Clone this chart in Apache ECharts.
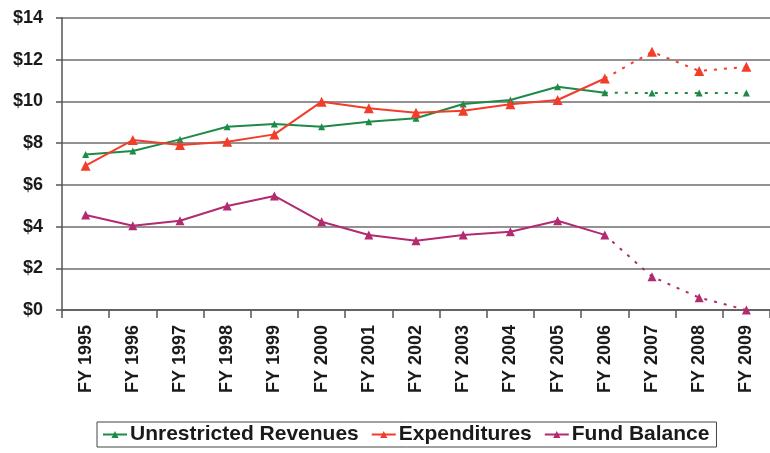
<!DOCTYPE html>
<html>
<head>
<meta charset="utf-8">
<script src="https://cdn.jsdelivr.net/npm/echarts@6/dist/echarts.min.js"></script>
<style>
  html, body { margin: 0; padding: 0; background: #fff; }
  #chart { width: 770px; height: 453px; }
</style>
</head>
<body>
<div id="chart"></div>
<script>
// fiscal years on the x axis
const years = ['FY 1995', 'FY 1996', 'FY 1997', 'FY 1998', 'FY 1999', 'FY 2000', 'FY 2001',
  'FY 2002', 'FY 2003', 'FY 2004', 'FY 2005', 'FY 2006', 'FY 2007', 'FY 2008', 'FY 2009']

// values in millions of dollars
const revenues = [7.45, 7.62, 8.18, 8.79, 8.92, 8.79, 9.03, 9.19, 9.88, 10.07, 10.7, 10.42, 10.4, 10.4, 10.4]
const expenditures = [6.92, 8.15, 7.91, 8.07, 8.42, 9.99, 9.67, 9.46, 9.55, 9.86, 10.07, 11.1, 12.38, 11.46, 11.66]
const fundBalance = [4.55, 4.04, 4.28, 4.99, 5.47, 4.23, 3.6, 3.32, 3.6, 3.75, 4.28, 3.6, 1.6, 0.59, 0.0]

// last actual year index; after it values are projections (dotted)
const lastActual = 11

const yTicks = [0, 2, 4, 6, 8, 10, 12, 14]

const chart = echarts.init(document.getElementById('chart'))

function actual(arr) {
  return arr.map((v, i) => (i <= lastActual ? v : null))
}
function projected(arr) {
  return arr.map((v, i) => (i >= lastActual ? v : null))
}

function makeSeries(name, data, color, size) {
  return [
    {
      name: name,
      type: 'line',
      data: actual(data),
      color: color,
      symbol: 'triangle',
      symbolSize: size,
      lineStyle: { color: color, width: 2 },
      itemStyle: { color: color },
      animation: false
    },
    {
      name: name,
      type: 'line',
      data: projected(data),
      color: color,
      symbol: 'triangle',
      symbolSize: (v, p) => (p.dataIndex === lastActual ? 0 : size),
      lineStyle: { color: color, width: 2, type: [3, 7] },
      itemStyle: { color: color },
      animation: false
    }
  ]
}

const labelFont = { fontFamily: 'Liberation Sans, Arial, sans-serif', fontWeight: 'bold', color: '#1a1a1a' }

chart.setOption({
  grid: {
    left: 62,
    top: 18,
    width: 712,
    height: 292
  },
  xAxis: {
    type: 'category',
    data: years,
    boundaryGap: true,
    axisLine: { lineStyle: { color: '#555', width: 1.5 } },
    axisTick: { show: true, length: 8, lineStyle: { color: '#555', width: 1.5 } },
    axisLabel: Object.assign({ rotate: 90, fontSize: 18, margin: 15, interval: 0 }, labelFont)
  },
  yAxis: {
    type: 'value',
    min: yTicks[0],
    max: yTicks[yTicks.length - 1],
    interval: 2,
    axisLine: { show: true, lineStyle: { color: '#555', width: 1.5 } },
    axisTick: { show: true, length: 6, lineStyle: { color: '#555', width: 1.5 } },
    splitLine: { lineStyle: { color: '#6e6e6e', width: 1.5 } },
    axisLabel: Object.assign({ fontSize: 18, margin: 19, formatter: v => '$' + v }, labelFont)
  },
  legend: {
    data: ['Unrestricted Revenues', 'Expenditures', 'Fund Balance'],
    left: 97,
    top: 422,
    orient: 'horizontal',
    borderColor: '#444',
    borderWidth: 1,
    padding: [2, 7, 2, 5],
    itemWidth: 24,
    itemHeight: 9,
    itemGap: 12,
    textStyle: Object.assign({ fontSize: 21, padding: [0, 0, 0, -2] }, labelFont)
  },
  series: [].concat(
    makeSeries('Unrestricted Revenues', revenues, '#1d8a47', 7),
    makeSeries('Expenditures', expenditures, '#f23d2a', 10),
    makeSeries('Fund Balance', fundBalance, '#b22a70', 9)
  )
})
</script>
</body>
</html>
